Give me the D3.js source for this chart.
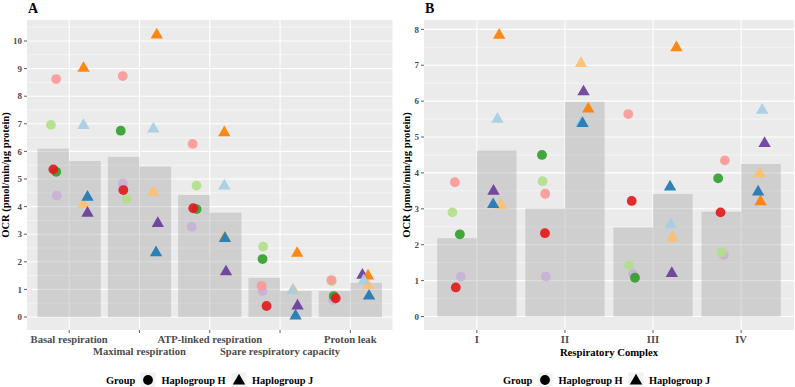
<!DOCTYPE html>
<html lang="en">
<head>
<meta charset="utf-8">
<title>OCR by haplogroup</title>
<script src="https://d3js.org/d3.v7.min.js"></script>
<style>
  body { margin: 0; background: #fff; }
  svg { display: block; font-family: "Liberation Serif", "DejaVu Serif", serif; font-weight: bold; }
</style>
</head>
<body>
<div id="chart"></div>
<script>
// ---- data ----
var categoriesA = ["Basal respiration", "Maximal respiration", "ATP-linked respiration",
                   "Spare respiratory capacity", "Proton leak"];
var categoriesB = ["I", "II", "III", "IV"];
var groups = ["Haplogroup H", "Haplogroup J"];

// samples, in drawing order
var samplesH = ["H1", "H2", "H3", "H4", "H5"];
var samplesJ = ["J1", "J2", "J3", "J4", "J5"];

// panel A : one row per sample, one column per category
var ocrA_H = [
  [4.40, 4.84, 3.27, 0.94, 0.62],
  [6.96, 4.28, 4.76, 2.55, 1.30],
  [8.62, 8.73, 6.27, 1.13, 1.34],
  [5.26, 6.75, 3.91, 2.10, 0.76],
  [5.35, 4.60, 3.94, 0.40, 0.68]
];
var ocrA_J = [
  [4.08, 4.52, 2.91, 0.98, 1.14],
  [3.76, 3.39, 1.64, 0.40, 1.52],
  [9.01, 10.22, 6.68, 2.31, 1.49],
  [6.94, 6.81, 4.75, 0.95, 1.32],
  [4.34, 2.33, 2.85, 0.04, 0.76]
];
var meanA_H = [6.10, 5.80, 4.42, 1.42, 0.94];
var meanA_J = [5.65, 5.45, 3.78, 0.94, 1.24];

// panel B
var ocrB_H = [
  [1.11, 1.11, 1.18, 1.71],
  [2.90, 3.77, 1.43, 1.79],
  [3.74, 3.42, 5.64, 4.35],
  [2.29, 4.50, 1.08, 3.85],
  [0.81, 2.32, 3.22, 2.90]
];
var ocrB_J = [
  [3.10, 7.05, 2.19, 3.98],
  [3.49, 6.26, 1.20, 4.82],
  [7.84, 5.78, 7.49, 3.20],
  [5.50, 5.40, 2.56, 5.75],
  [3.12, 5.38, 3.61, 3.47]
];
var meanB_H = [2.18, 3.01, 2.48, 2.92];
var meanB_J = [4.62, 5.98, 3.41, 4.25];

var ticksA = d3.range(0, 11);
var ticksB = d3.range(0, 9);

// horizontal jitter (fraction of a category step), same layout as the values
var jitterA_H = [
  [0.05, -0.013, -0.033, -0.024, -0.021],
  [-0.035, 0.044, 0.038, -0.016, -0.04],
  [0.04, -0.013, -0.018, -0.038, -0.044],
  [0.04, -0.041, 0.038, -0.024, -0.011],
  [0, -0.004, -0.01, 0.033, 0.017]
];
var jitterA_J = [
  [-0.021, -0.027, -0.018, -0.038, 0.027],
  [0.036, 0.036, 0.006, 0.024, -0.053],
  [-0.021, 0.021, -0.018, 0.018, 0.027],
  [-0.021, -0.027, -0.018, -0.047, -0.034],
  [0.036, 0.011, -0.009, -0.004, 0.041]
];
var jitterB_H = [
  [0.043, 0.009, -0.002, 0.028],
  [-0.052, -0.029, -0.048, 0.002],
  [-0.025, 0.001, -0.056, 0.04],
  [0.032, -0.036, 0.02, -0.036],
  [-0.014, -0.002, -0.017, -0.009]
];
var jitterB_J = [
  [0.048, -0.043, -0.006, -0.016],
  [-0.036, -0.014, -0.012, 0.041],
  [0.028, 0.04, 0.04, -0.005],
  [0.009, -0.043, -0.024, 0.014],
  [-0.04, -0.025, -0.032, -0.032]
];

// colours (RColorBrewer "Paired")
var colorH = ["#CAB2D6", "#B2DF8A", "#FB9A99", "#33A02C", "#E31A1C"];
var colorJ = ["#FDBF6F", "#6A3D9A", "#FF7F00", "#A6CEE3", "#1F78B4"];

// ---- drawing ----
var W = 795, H = 387;
var panelTop = 20, panelBottom = 330;
var svg = d3.select("#chart").append("svg").attr("width", W).attr("height", H);

var triangle = d3.symbol().type(d3.symbolTriangle).size(66);

function drawPanel(p) {
  var x = d3.scalePoint().domain(p.cats).range([p.left, p.right]).padding(0.6);
  var step = x.step();
  var y = d3.scaleLinear().domain(p.yDomain).range([panelBottom, panelTop]);
  var g = svg.append("g");

  g.append("rect")
    .attr("x", p.left).attr("y", panelTop)
    .attr("width", p.right - p.left).attr("height", panelBottom - panelTop)
    .attr("fill", "#EBEBEB");

  // grid
  var minor = d3.range(0.5, p.yDomain[1], 1);
  g.selectAll(".minor").data(minor).enter().append("line")
    .attr("x1", p.left).attr("x2", p.right)
    .attr("y1", d => y(d)).attr("y2", d => y(d))
    .attr("stroke", "#fff").attr("stroke-width", 0.5);
  g.selectAll(".major").data(p.ticks).enter().append("line")
    .attr("x1", p.left).attr("x2", p.right)
    .attr("y1", d => y(d)).attr("y2", d => y(d))
    .attr("stroke", "#fff").attr("stroke-width", 1.1);
  g.selectAll(".vgrid").data(p.cats).enter().append("line")
    .attr("x1", d => x(d)).attr("x2", d => x(d))
    .attr("y1", panelTop).attr("y2", panelBottom)
    .attr("stroke", "#fff").attr("stroke-width", 1.1);

  // mean bars
  var bw = step * 0.45;
  g.selectAll(".barH").data(p.meanH).enter().append("rect")
    .attr("x", (d, i) => x(p.cats[i]) - bw)
    .attr("y", d => y(d))
    .attr("width", bw)
    .attr("height", d => y(0) - y(d))
    .attr("fill", "#9a9a9a").attr("fill-opacity", 0.35);
  g.selectAll(".barJ").data(p.meanJ).enter().append("rect")
    .attr("x", (d, i) => x(p.cats[i]))
    .attr("y", d => y(d))
    .attr("width", bw)
    .attr("height", d => y(0) - y(d))
    .attr("fill", "#9a9a9a").attr("fill-opacity", 0.35);

  // points
  p.valH.forEach(function(row, s) {
    g.selectAll(null).data(row).enter().append("circle")
      .attr("cx", (d, i) => x(p.cats[i]) - step * 0.225 + p.jitH[s][i] * step)
      .attr("cy", d => y(d))
      .attr("r", 4.9)
      .attr("fill", colorH[s]).attr("fill-opacity", 0.92);
  });
  p.valJ.forEach(function(row, s) {
    g.selectAll(null).data(row).enter().append("path")
      .attr("d", triangle)
      .attr("transform", (d, i) => "translate(" + (x(p.cats[i]) + step * 0.225 + p.jitJ[s][i] * step) + "," + y(d) + ")")
      .attr("fill", colorJ[s]).attr("fill-opacity", 0.92);
  });

  // y axis
  g.selectAll(".ytick").data(p.ticks).enter().append("line")
    .attr("x1", p.left - 3).attr("x2", p.left)
    .attr("y1", d => y(d)).attr("y2", d => y(d))
    .attr("stroke", "#333").attr("stroke-width", 0.8);
  g.selectAll(".ylab").data(p.ticks).enter().append("text")
    .attr("x", p.left - 5).attr("y", d => y(d) + 3.2)
    .attr("text-anchor", "end")
    .attr("font-size", 9).attr("fill", "#4D4D4D")
    .text(d => d);
  g.append("text")
    .attr("transform", "translate(" + p.yTitleX + "," + (panelTop + panelBottom) / 2 + ") rotate(-90)")
    .attr("text-anchor", "middle").attr("font-size", 10.5).attr("fill", "#000")
    .text("OCR (pmol/min/\u03bcg protein)");

  // x axis
  g.selectAll(".xtick").data(p.cats).enter().append("line")
    .attr("x1", d => x(d)).attr("x2", d => x(d))
    .attr("y1", panelBottom).attr("y2", panelBottom + 3)
    .attr("stroke", "#333").attr("stroke-width", 0.8);
  g.selectAll(".xlab").data(p.cats).enter().append("text")
    .attr("x", d => x(d))
    .attr("y", (d, i) => p.dodge && i % 2 === 1 ? 355 : 343)
    .attr("text-anchor", "middle")
    .attr("font-size", 10.6).attr("fill", "#4D4D4D")
    .text(d => d);
  if (p.xTitle) {
    g.append("text")
      .attr("x", (p.left + p.right) / 2).attr("y", 356)
      .attr("text-anchor", "middle").attr("font-size", 10.7).attr("fill", "#000")
      .text(p.xTitle);
  }

  // tag
  g.append("text")
    .attr("x", p.left + 1).attr("y", 13)
    .attr("font-size", 14).attr("fill", "#000")
    .text(p.tag);

  // legend
  var lg = g.append("g").attr("transform", "translate(" + p.legendX + ",0)");
  lg.append("text").attr("x", 0).attr("y", 384).attr("font-size", 10.4).text("Group");
  lg.append("rect").attr("x", 34.5).attr("y", 372.5).attr("width", 15).attr("height", 15).attr("fill", "#F2F2F2");
  lg.append("circle").attr("cx", 42).attr("cy", 380).attr("r", 4.9).attr("fill", "#000");
  lg.append("text").attr("x", 55.5).attr("y", 384).attr("font-size", 10.4).text(groups[0]);
  lg.append("rect").attr("x", 125.5).attr("y", 372.5).attr("width", 15).attr("height", 15).attr("fill", "#F2F2F2");
  lg.append("path").attr("d", triangle).attr("transform", "translate(133,381)").attr("fill", "#000");
  lg.append("text").attr("x", 146).attr("y", 384).attr("font-size", 10.4).text(groups[1]);
}

drawPanel({
  tag: "A", cats: categoriesA, left: 27, right: 392.5, yDomain: [-0.47, 10.76], ticks: ticksA,
  meanH: meanA_H, meanJ: meanA_J, valH: ocrA_H, valJ: ocrA_J, jitH: jitterA_H, jitJ: jitterA_J,
  yTitleX: 9, dodge: true, xTitle: null, legendX: 106
});
drawPanel({
  tag: "B", cats: categoriesB, left: 424, right: 794, yDomain: [-0.376, 8.26], ticks: ticksB,
  meanH: meanB_H, meanJ: meanB_J, valH: ocrB_H, valJ: ocrB_J, jitH: jitterB_H, jitJ: jitterB_J,
  yTitleX: 410, dodge: false, xTitle: "Respiratory Complex", legendX: 503
});
</script>
</body>
</html>
